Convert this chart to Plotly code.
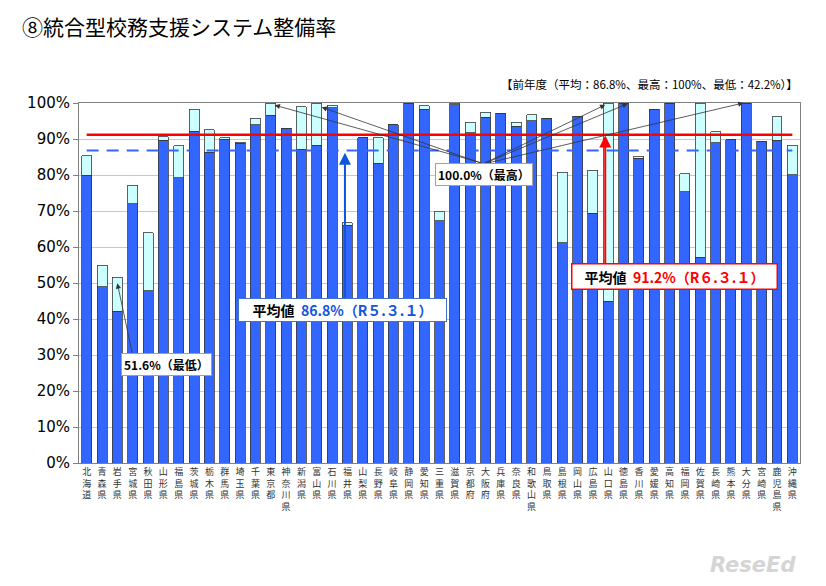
import plotly.graph_objects as go

prefectures = ["北海道","青森県","岩手県","宮城県","秋田県","山形県","福島県","茨城県","栃木県","群馬県",
               "埼玉県","千葉県","東京都","神奈川県","新潟県","富山県","石川県","福井県","山梨県","長野県",
               "岐阜県","静岡県","愛知県","三重県","滋賀県","京都府","大阪府","兵庫県","奈良県","和歌山県",
               "鳥取県","島根県","岡山県","広島県","山口県","徳島県","香川県","愛媛県","高知県","福岡県",
               "佐賀県","長崎県","熊本県","大分県","宮崎県","鹿児島県","沖縄県"]

# R6.3.1 (current year) rate, %
current = [85.3, 54.9, 51.6, 77.2, 63.9, 90.6, 88.1, 98.2, 92.6, 90.3,
           89.1, 95.7, 100.0, 93.0, 99.0, 100.0, 99.4, 66.7, 90.3, 90.4,
           93.9, 100.0, 99.2, 70.0, 100.0, 94.6, 97.4, 97.2, 94.7, 96.7,
           95.7, 80.8, 96.3, 81.3, 100.0, 100.0, 85.2, 98.2, 100.0, 80.3,
           100.0, 92.0, 89.8, 100.0, 89.4, 96.2, 88.2]

# R5.3.1 (previous year) rate, %
previous = [80.0, 49.0, 42.2, 72.0, 47.8, 89.6, 79.2, 92.1, 86.3, 90.0,
            88.8, 94.0, 96.6, 93.0, 87.2, 88.2, 98.7, 66.0, 90.3, 83.3,
            93.9, 100.0, 98.2, 67.3, 99.5, 91.7, 96.1, 97.2, 93.6, 95.1,
            95.7, 61.2, 96.3, 69.4, 45.0, 100.0, 84.6, 98.2, 100.0, 75.3,
            57.2, 89.0, 89.8, 100.0, 89.4, 89.6, 80.1]

avg_current = 91.2
avg_previous = 86.8
y_ticks = list(range(0, 101, 10))
y_tick_labels = [f"{v}%" for v in y_ticks]

increase = [round(c - p, 1) for c, p in zip(current, previous)]
tick_text = ["<br>".join(list(n)) for n in prefectures]

JP = "Noto Sans CJK JP"

fig = go.Figure()
fig.add_trace(go.Bar(x=prefectures, y=previous, marker=dict(color="#3366FF", line=dict(color="#3a3a3a", width=0.8)),
                     showlegend=False))
fig.add_trace(go.Bar(x=prefectures, y=increase, marker=dict(color="#CCFFFF", line=dict(color="#3a3a3a", width=0.8)),
                     showlegend=False))
fig.add_trace(go.Scatter(x=[prefectures[0], prefectures[-1]], y=[avg_previous, avg_previous], mode="lines",
                         line=dict(color="#3366FF", width=2.2, dash="12px,8px"), showlegend=False))
fig.add_trace(go.Scatter(x=[prefectures[0], prefectures[-1]], y=[avg_current, avg_current], mode="lines",
                         line=dict(color="#FF0000", width=2.5), showlegend=False))

ann = []
# 100% (max) arrows
for name, xs, yv, ax, ay in [("東京都", 4, 99.4, 208, 58), ("富山県", 5, 98.8, 160, 56),
                             ("山口県", -3, 99.5, -122, 59), ("徳島県", 4, 99.8, -144, 60),
                             ("大分県", -3, 100.0, -260, 61)]:
    ann.append(dict(x=name, y=yv, xref="x", yref="y", xshift=xs, text="", showarrow=True,
                    ax=ax, ay=ay, arrowhead=2, arrowsize=1.3, arrowwidth=0.8, arrowcolor="#333333"))
ann.append(dict(x=0.5617, y=0.802, xref="paper", yref="paper", xanchor="center", yanchor="middle",
                text="<b>100.0%（最高）</b>", showarrow=False,
                font=dict(family=JP, size=12, color="#000000"), bgcolor="#FFFFFF", bordercolor="#A0A0A0",
                borderwidth=1, borderpad=2))
# lowest arrow
ann.append(dict(x="岩手県", y=49.9, xref="x", yref="y", text="", showarrow=True, ax=16, ay=75,
                arrowhead=2, arrowsize=1.3, arrowwidth=0.8, arrowcolor="#333333"))
ann.append(dict(x=0.1207, y=0.2748, xref="paper", yref="paper", xanchor="center", yanchor="middle",
                text="<b>51.6%（最低）</b>", showarrow=False,
                font=dict(family=JP, size=12, color="#000000"), bgcolor="#FFFFFF", bordercolor="#A0A0A0",
                borderwidth=1, borderpad=2))
# previous average
ann.append(dict(x="福井県", y=86.2, xref="x", yref="y", xshift=-2.5, text="", showarrow=True, ax=0, ay=148,
                arrowhead=2, arrowsize=1.2, arrowwidth=2, arrowcolor="#1155DD"))
ann.append(dict(x=0.3655, y=0.4247, xref="paper", yref="paper", xanchor="center", yanchor="middle",
                text="<b>平均値  <span style='color:#1155DD'>86.8%（R５.３.１）</span></b>", showarrow=False,
                font=dict(family=JP, size=14, color="#000000"), bgcolor="#FFFFFF", bordercolor="#4472C4",
                borderwidth=1, borderpad=1, width=205))
# current average
ann.append(dict(x="山口県", y=91.0, xref="x", yref="y", xshift=-3, text="", showarrow=True, ax=0, ay=130,
                arrowhead=2, arrowsize=1.2, arrowwidth=2, arrowcolor="#FF0000"))
ann.append(dict(x=0.8266, y=0.519, xref="paper", yref="paper", xanchor="center", yanchor="middle",
                text="<b>平均値  <span style='color:#FF0000'>91.2%（R６.３.１）</span></b>", showarrow=False,
                font=dict(family=JP, size=14, color="#000000"), bgcolor="#FFFFFF", bordercolor="#FF0000",
                borderwidth=1.5, borderpad=2, width=200))
# previous year note
ann.append(dict(x=1.0, y=1.052, xref="paper", yref="paper", xanchor="right", yanchor="middle",
                text="【前年度（平均：86.8%、最高：100%、最低：42.2%）】", showarrow=False,
                font=dict(family=JP, size=11.5, color="#000000")))
# watermark
ann.append(dict(x=0.935, y=-0.283, xref="paper", yref="paper", xanchor="center", yanchor="middle",
                text="<b><i>ReseEd</i></b>", showarrow=False,
                font=dict(family="DejaVu Sans", size=21, color="#D5D5D5")))

# the page body adds an 8px offset, so the figure is drawn 8px smaller on each side
W, H = 810, 570
fig.update_layout(
    width=W, height=H,
    margin=dict(l=71, r=18, t=95, b=115, autoexpand=False),
    paper_bgcolor="#FFFFFF", plot_bgcolor="#FFFFFF",
    barmode="stack", bargap=0.35,
    title=dict(text="⑧統合型校務支援システム整備率", x=14/W, xanchor="left", xref="container",
               y=1-20/H, yanchor="middle", yref="container",
               font=dict(family=JP, size=21, color="#000000")),
    annotations=ann,
    showlegend=False,
)
fig.update_yaxes(range=[0, 100], tickvals=y_ticks, ticktext=y_tick_labels, showgrid=True, gridcolor="#C8C8C8",
                 gridwidth=1, showline=True, linecolor="#808080", mirror=True, ticks="outside", ticklen=5,
                 tickcolor="#808080", tickfont=dict(family="DejaVu Sans", size=15, color="#000000"), zeroline=False,
                 automargin=False)
fig.update_xaxes(tickvals=prefectures, ticktext=tick_text, tickangle=0, showline=True, linecolor="#808080",
                 mirror=True, ticks="", tickfont=dict(family=JP, size=9, color="#333333"),
                 range=[-0.5, len(prefectures) - 0.5], automargin=False)

fig.write_html("out.html")
